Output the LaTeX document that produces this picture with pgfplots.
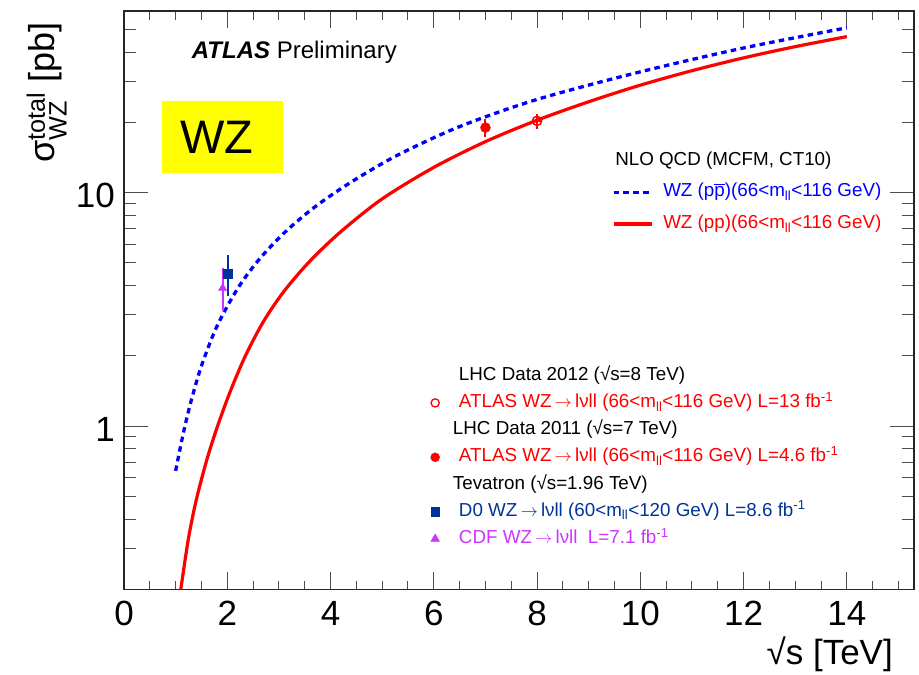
\documentclass[border=0pt]{standalone}
\usepackage{fontspec}
\setmainfont{Liberation Sans}
\usepackage{amsmath}
\usepackage{pgfplots}
\pgfplotsset{compat=1.18}

\definecolor{curveblue}{RGB}{0,0,255}
\definecolor{curvered}{RGB}{255,0,0}
\definecolor{dzero}{RGB}{0,51,153}
\definecolor{cdf}{RGB}{204,51,255}
\definecolor{boxyellow}{RGB}{255,255,0}

\newcommand{\mll}{m\textsubscript{ll}}
\newcommand{\invfb}{fb\textsuperscript{-1}}
\newcommand{\pbar}{$\overline{\text{p}}$}
\newcommand{\decay}{WZ\,$\rightarrow$\,lνll}

\begin{document}
\begin{tikzpicture}
\useasboundingbox (0pt,0pt) rectangle (919pt,675pt);

% process label box
\fill[boxyellow] (161.7pt,501.7pt) rectangle (283pt,574.3pt);

% ---------------- NLO QCD predictions ----------------
\begin{axis}[
  at={(124pt,85.7pt)}, anchor=south west,
  scale only axis, width=790pt, height=578.3pt,
  xmin=0, xmax=15.3, ymode=log, ymin=0.2, ymax=60,
  axis line style={black!85, line width=1.2pt},
  xtick={0,2,4,6,8,10,12,14},
  minor xtick={0.5,1,...,15},
  ytick={1,10}, yticklabels={1,10},
  minor ytick={0.2,0.3,0.4,0.5,0.6,0.7,0.8,0.9,2,3,4,5,6,7,8,9,20,30,40,50},
  tick style={black!70, line width=1pt},
  xtick style={/pgfplots/major tick length=17pt, /pgfplots/minor tick length=8.7pt},
  ytick style={/pgfplots/major tick length=24pt, /pgfplots/minor tick length=12.5pt},
  /pgf/number format/assume math mode=true,
  tick label style={font=\fontsize{35}{40}\selectfont, inner sep=0pt},
  xticklabel style={anchor=north, yshift=-12pt},
  yticklabel style={anchor=east, xshift=-9pt, yshift=-3pt},
  legend cell align=left,
  legend image code/.code={\draw[#1] (0pt,0pt) -- (38pt,0pt);},
  legend style={at={(0.6174,0.7579)}, anchor=north west, draw=none, fill=none,
    inner sep=0pt, row sep=12.7pt, column sep=10pt,
    font=\fontsize{18.8}{22}\selectfont,
    nodes={inner sep=0pt, text height=14pt, text depth=5pt}},
]
\addlegendimage{empty legend}
\addlegendentry{\hspace{-48pt}NLO QCD (MCFM, CT10)}

% p-pbar collisions
\addplot[curveblue, line width=3.3pt, dash pattern=on 5.5pt off 4.3pt, smooth] table {
rs     xs
1.00   0.643
1.15   0.935
1.30   1.282
1.50   1.811
1.80   2.677
2.20   3.882
2.60   5.122
3.10   6.718
3.70   8.700
4.40   11.10
5.30   14.48
6.50   19.19
8.00   25.08
10.0   32.93
12.0   41.66
14.0   50.82
};
\addlegendentry[text=curveblue]{WZ (p\pbar)(66<\mll<116 GeV)}

% p-p collisions
\addplot[curvered, line width=3.2pt, smooth] table {
rs     xs
1.10   0.200
1.25   0.332
1.40   0.483
1.60   0.712
1.80   0.982
2.05   1.393
2.35   1.997
2.70   2.803
3.10   3.784
3.60   5.089
4.20   6.808
5.00   9.406
6.00   12.83
7.00   16.54
8.00   20.43
9.00   24.51
10.0   28.87
11.0   33.30
12.0   37.79
13.0   42.21
14.0   46.60
};
\addlegendentry[text=curvered]{WZ (pp)(66<\mll<116 GeV)}
\end{axis}

% ---------------- measurements ----------------
\begin{axis}[
  at={(124pt,85.7pt)}, anchor=south west,
  scale only axis, width=790pt, height=578.3pt,
  xmin=0, xmax=15.3, ymode=log, ymin=0.2, ymax=60,
  hide axis,
  legend cell align=left,
  legend image code/.code={\draw[mark repeat=2, mark phase=2, #1]
                           plot coordinates {(0pt,0pt) (5pt,0pt) (10pt,0pt)};},
  legend style={at={(0.3873,0.3861)}, anchor=north west, draw=none, fill=none,
    inner sep=0pt, row sep=8.2pt, column sep=19.3pt,
    font=\fontsize{18.8}{22}\selectfont,
    nodes={inner sep=0pt, text height=14pt, text depth=5pt}},
]
\addlegendimage{empty legend}
\addlegendentry{LHC Data 2012 (√s=8 TeV)}
\addlegendimage{only marks, mark=o, curvered, mark size=4.1pt, mark options={line width=1.3pt}}
\addlegendentry[text=curvered]{ATLAS \decay{} (66<\mll<116 GeV) L=13 \invfb}
\addlegendimage{empty legend}
\addlegendentry{\hspace{-6pt}LHC Data 2011 (√s=7 TeV)}
\addlegendimage{only marks, mark=*, curvered, mark size=4.5pt}
\addlegendentry[text=curvered]{ATLAS \decay{} (66<\mll<116 GeV) L=4.6 \invfb}
\addlegendimage{empty legend}
\addlegendentry{\hspace{-6pt}Tevatron (√s=1.96 TeV)}
\addlegendimage{only marks, mark=square*, dzero, mark size=4.2pt}
\addlegendentry[text=dzero]{D0 \decay{} (60<\mll<120 GeV) L=8.6 \invfb}
\addlegendimage{only marks, mark=triangle*, cdf, mark size=5pt}
\addlegendentry[text=cdf]{CDF \decay{}\ \ L=7.1 \invfb}

% CDF, sqrt(s)=1.96 TeV
\addplot[forget plot, cdf, only marks, mark=triangle*, mark size=4.8pt,
  error bars/.cd, y dir=both, y explicit, error mark=none,
  error bar style={line width=2pt, cdf}]
  table[x=rs, y=xs, y error plus=ep, y error minus=em] {
rs    xs    ep    em
1.91  3.90  0.85  0.80
};

% D0, sqrt(s)=1.96 TeV
\addplot[forget plot, dzero, only marks, mark=square*, mark size=4.5pt,
  error bars/.cd, y dir=both, y explicit, error mark=none,
  error bar style={line width=2.2pt, dzero}]
  table[x=rs, y=xs, y error plus=ep, y error minus=em] {
rs    xs    ep    em
2.01  4.50  0.90  0.90
};

% ATLAS 2011, sqrt(s)=7 TeV
\addplot[forget plot, curvered, only marks, mark=*, mark size=5pt,
  error bars/.cd, y dir=both, y explicit, error mark=none,
  error bar style={line width=2pt, curvered}]
  table[x=rs, y=xs, y error plus=ep, y error minus=em] {
rs    xs    ep    em
7.0   19.0  1.6   1.6
};

% ATLAS 2012, sqrt(s)=8 TeV
\addplot[forget plot, curvered, only marks, mark=o, mark size=4.6pt,
  mark options={line width=1.5pt},
  error bars/.cd, y dir=both, x dir=both, y explicit, x explicit, error mark=none,
  error bar style={line width=1.5pt, curvered}]
  table[x=rs, y=xs, x error=ex, y error plus=ep, y error minus=em] {
rs    xs    ex    ep    em
8.0   20.3  0.09  1.5   1.5
};
\end{axis}

% ---------------- annotations ----------------
\node[anchor=base west, inner sep=0pt, font=\fontsize{24}{28}\selectfont]
  at (191.7pt,616pt) {\textbf{\textit{ATLAS}} Preliminary};
\node[anchor=base west, inner sep=0pt, font=\fontsize{47}{52}\selectfont]
  at (180pt,521pt) {WZ};
\node[anchor=base east, inner sep=0pt, rotate=90, font=\fontsize{36}{40}\selectfont]
  at (54pt,653pt) {σ$^{\text{total}}_{\text{WZ}}$ [pb]};
\node[anchor=base east, inner sep=0pt, font=\fontsize{35}{40}\selectfont]
  at (893pt,10pt) {√s [TeV]};
\end{tikzpicture}
\end{document}
